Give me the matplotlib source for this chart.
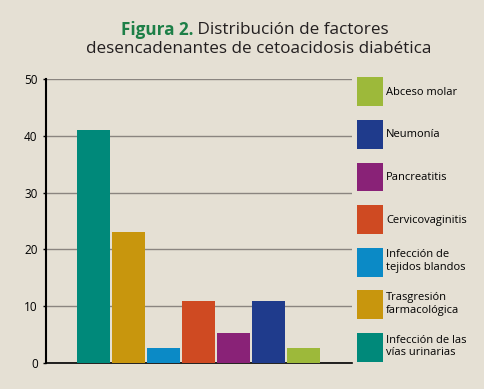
import numpy as np
import matplotlib.pyplot as plt
from matplotlib.patches import Patch

# data (%)
categories = ["Infección de las\nvías urinarias", "Trasgresión\nfarmacológica",
              "Infección de\ntejidos blandos", "Cervicovaginitis", "Pancreatitis",
              "Neumonía", "Abceso molar"]
values = [41.1, 23.1, 2.7, 11.0, 5.3, 11.0, 2.7]
colors = ["#00897a", "#c8960d", "#0b8ac6", "#cf4a22", "#892277", "#1f3b8c", "#9db93a"]
yticks = [0, 10, 20, 30, 40, 50]

bg = "#e5e0d4"
plt.rcParams['font.family'] = ['Open Sans', 'DejaVu Sans']

fig = plt.figure(figsize=(4.84, 3.89), dpi=100, facecolor=bg)
ax = fig.add_axes([46/484, 1-363/389, (352-46)/484, (363-79)/389])
ax.set_facecolor(bg)

x = np.arange(len(values))
ax.bar(x, values, width=0.94, color=colors, zorder=3)
ax.set_xlim(-1.37, len(values) - 1 + 1.38)
ax.set_ylim(0, 50)
ax.set_yticks(yticks)
ax.set_xticks([])
ax.yaxis.grid(True, color="#8a8580", linewidth=1, zorder=0)
ax.tick_params(axis='y', length=2, width=1, labelsize=8.5, pad=4, colors='black')
for s in ['top', 'right']:
    ax.spines[s].set_visible(False)
ax.spines['left'].set_linewidth(1.5)
ax.spines['bottom'].set_linewidth(1.2)

# legend, last category on top
handles = [Patch(facecolor=c) for c in colors[::-1]]
fig.legend(handles, categories[::-1], loc='upper left',
           bbox_to_anchor=(354/484, 1-74/389), frameon=False, fontsize=8,
           handlelength=2.35, handleheight=3.6, handletextpad=0.25,
           labelspacing=1.25, borderaxespad=0, borderpad=0.3)

# title, first part bold green
fig.canvas.draw()
r = fig.canvas.get_renderer()
t1 = fig.text(0, 1-30/389, "Figura 2.", fontsize=12.3, fontweight='bold',
              color="#1d7f47", va='center')
t2 = fig.text(0, 1-30/389, " Distribución de factores", fontsize=12.3,
              color="#231f20", va='center')
w1 = t1.get_window_extent(r).width
w2 = t2.get_window_extent(r).width
x0 = 255 - (w1 + w2) / 2
t1.set_x(x0 / 484)
t2.set_x((x0 + w1) / 484)
fig.text(259/484, 1-49/389, "desencadenantes de cetoacidosis diabética",
         fontsize=12.3, color="#231f20", ha='center', va='center')

fig.savefig("out.png", dpi=100, facecolor=bg)
